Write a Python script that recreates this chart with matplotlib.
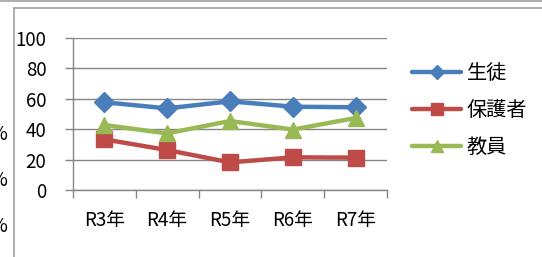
import matplotlib
matplotlib.use("Agg")
import matplotlib.pyplot as plt
from matplotlib.lines import Line2D

plt.rcParams['font.family'] = ['Noto Sans CJK JP', 'DejaVu Sans']

# data
years = ["R3年", "R4年", "R5年", "R6年", "R7年"]
students = [57.7, 53.7, 58.3, 54.8, 54.4]
parents = [33.4, 26.4, 18.3, 21.6, 21.4]
teachers = [42.8, 37.3, 45.4, 39.8, 47.4]
series_names = ["生徒", "保護者", "教員"]
yticks = [0, 20, 40, 60, 80, 100]

c_blue = '#4a7ebb'
c_red = '#be4b48'
c_green = '#98b954'
grid_c = '#868686'

W, H = 542, 257
fig = plt.figure(figsize=(W / 100, H / 100), dpi=100)

# plot area in pixels
px_l, px_r = 72.7, 387.3
px_t, px_b = 37.7, 190.3
ax = fig.add_axes([px_l / W, 1 - px_b / H, (px_r - px_l) / W, (px_b - px_t) / H])

xx = list(range(len(years)))
ax.plot(xx, students, color=c_blue, lw=3.2, marker='D', ms=10, label=series_names[0],
        solid_capstyle='round', solid_joinstyle='round')
ax.plot(xx, parents, color=c_red, lw=3.2, marker='s', ms=11, label=series_names[1],
        solid_capstyle='round', solid_joinstyle='round')
ax.plot(xx, teachers, color=c_green, lw=3.2, marker='^', ms=12, label=series_names[2],
        solid_capstyle='round', solid_joinstyle='round')

ax.set_xlim(-0.5, len(years) - 0.5)
ax.set_ylim(0, 100)
ax.set_yticks(yticks)
ax.set_yticklabels([str(v) for v in yticks], fontsize=13.5)
ax.set_xticks(xx)
ax.set_xticklabels(years, fontsize=13.5)
ax.set_xticks([i - 0.5 for i in range(len(years) + 1)], minor=True)
ax.tick_params(axis='x', which='major', length=0, pad=14)
ax.tick_params(axis='x', which='minor', length=6, width=1, color=grid_c, direction='out')
ax.tick_params(axis='y', length=6, width=1, color=grid_c, pad=13)
ax.yaxis.grid(True, color=grid_c, lw=1)
ax.set_axisbelow(True)
for s in ['top', 'right']:
    ax.spines[s].set_visible(False)
for s in ['left', 'bottom']:
    ax.spines[s].set_color(grid_c)
    ax.spines[s].set_linewidth(1)

leg = fig.legend(loc='upper left', bbox_to_anchor=(402 / W, 1 - 53 / H),
                 frameon=False, fontsize=14.5, handlelength=2.45, handletextpad=0.25,
                 labelspacing=0.8, borderpad=0, markerscale=0.75)

# outer frame lines
fig.add_artist(Line2D([0, 1], [1 - 0.5 / H, 1 - 0.5 / H], color='#a0a0a0', lw=1.2))
fig.add_artist(Line2D([14 / W, 1], [1 - 7.5 / H, 1 - 7.5 / H], color='#a0a0a0', lw=1.2))
fig.add_artist(Line2D([14 / W, 14 / W], [0, 1 - 7.5 / H], color='#a0a0a0', lw=1.2))

# clipped % signs from neighbouring chart (cut off at the left edge, as in the source)
for yp in [134, 180, 226]:
    fig.text(7 / W, 1 - yp / H, "%", ha='right', va='center', fontsize=14)

fig.savefig("out.png", dpi=100)
